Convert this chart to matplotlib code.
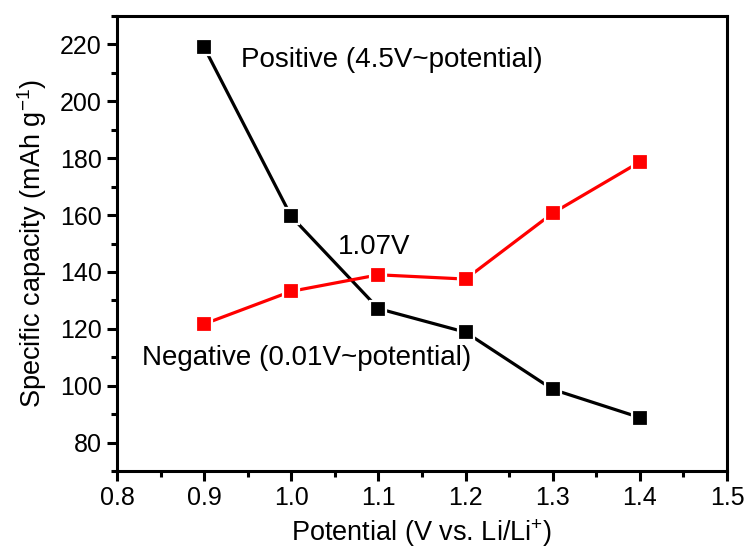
import matplotlib
matplotlib.use("Agg")
import matplotlib.pyplot as plt
from matplotlib.ticker import MultipleLocator

plt.rcParams['font.family'] = ['Liberation Sans', 'DejaVu Sans']
plt.rcParams['mathtext.default'] = 'regular'

potential = [0.9, 1.0, 1.1, 1.2, 1.3, 1.4]
positive = [219.0, 159.5, 127.1, 118.8, 98.7, 88.8]
negative = [121.7, 133.2, 139.0, 137.5, 160.7, 178.7]

fig = plt.figure(figsize=(7.48, 5.52), dpi=100)
ax = fig.add_axes([0.1564, 0.1467, 0.8156, 0.8243])

ax.plot(potential, positive, color='black', lw=2.3, marker='s', ms=11,
        markerfacecolor='black', markeredgecolor='white', markeredgewidth=1.6)
ax.plot(potential, negative, color='#ff0000', lw=2.3, marker='s', ms=11,
        markerfacecolor='#ff0000', markeredgecolor='white', markeredgewidth=1.6)

ax.set_xlim(0.8, 1.5)
ax.set_ylim(70, 230)
ax.xaxis.set_major_locator(MultipleLocator(0.1))
ax.xaxis.set_minor_locator(MultipleLocator(0.05))
ax.yaxis.set_major_locator(MultipleLocator(20))
ax.yaxis.set_minor_locator(MultipleLocator(10))
ax.set_yticks([80, 100, 120, 140, 160, 180, 200, 220])
ax.tick_params(which='major', direction='out', length=7, width=2.2, labelsize=18, pad=4)
ax.tick_params(which='minor', direction='out', length=4.5, width=2.2)
ax.tick_params(top=False, right=False, which='both')
for s in ax.spines.values():
    s.set_linewidth(2.2)

ax.set_xlabel('Potential (V vs. Li/Li$^{+}$)', fontsize=19.5, labelpad=5)
ax.set_ylabel('Specific capacity (mAh g$^{-1}$)', fontsize=19.5, labelpad=8)

ax.text(0.9425, 214.7, 'Positive (4.5V~potential)', fontsize=20, va='center', ha='left')
ax.text(1.053, 148.9, '1.07V', fontsize=20, va='center', ha='left')
ax.text(0.8284, 109.7, 'Negative (0.01V~potential)', fontsize=20, va='center', ha='left')

fig.savefig('out.png', dpi=100)
